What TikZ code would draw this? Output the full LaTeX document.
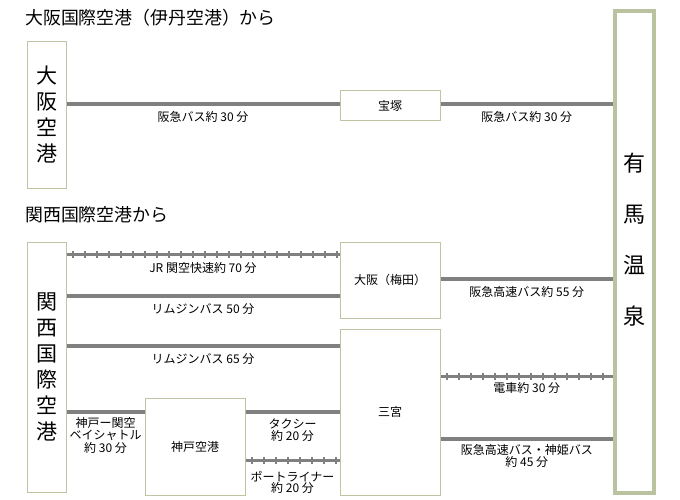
\documentclass[tikz,border=0pt]{standalone}
\usepackage{fontspec}
\setmainfont{Noto Sans CJK JP}
\usepackage{xcolor}
\usetikzlibrary{decorations.markings}

\definecolor{linegray}{RGB}{128,128,128}
\definecolor{boxline}{RGB}{192,196,162}
\definecolor{onsenline}{RGB}{185,195,160}
\newcommand\titlesize{\fontsize{17.9}{20}\selectfont}
\newcommand\labelsize{\fontsize{12}{12.5}\selectfont}
\newcommand\tightsize{\fontsize{12}{11}\selectfont}
\newcommand\bigsize{\fontsize{21}{26}\selectfont}
\newcommand\onsensize{\fontsize{22}{51}\selectfont}

\tikzset{
  box/.style={draw=boxline, line width=1pt, inner sep=0pt, font=\labelsize, align=center},
  bus/.style={linegray, line width=3.5pt},
  rail/.style={linegray, line width=3pt,
    postaction={decorate, decoration={markings,
      mark=between positions 6pt and 1 step 12pt with {\fill[linegray] (-1pt,-3.5pt) rectangle (1pt,3.5pt);}}}},
  lbl/.style={font=\labelsize, align=center, inner sep=0pt, text=black},
}

\begin{document}
\begin{tikzpicture}[x=1pt, y=-1pt]
            \useasboundingbox (0,0) rectangle (680,500);

            % from Itami
            \node[anchor=west, inner sep=0pt, font=\titlesize] (title1) at (25,18) {大阪国際空港（伊丹空港）から};
            \node[box, minimum width=39pt, minimum height=146pt, font=\bigsize] (itm) at (46.5,115) {大\\阪\\空\\港};
            \node[box, minimum width=100pt, minimum height=30pt] (tkz) at (390,106) {宝塚};
            \node[draw=onsenline, line width=4pt, minimum width=39pt, minimum height=482pt,
                  label={[font=\onsensize, align=center, yshift=12pt]center:有\\馬\\温\\泉}] (arima) at (634.5,252) {};

            \draw[bus] (itm.east |- 0,104) -- node[lbl, yshift=-13pt] (l-itm) {阪急バス約 30 分} (tkz.west |- 0,104); % itami-takarazuka
            \draw[bus] (tkz.east |- 0,104) -- node[lbl, yshift=-13pt] (l-tkz) {阪急バス約 30 分} (arima.west |- 0,104); % takarazuka-arima

            % from Kansai
            \node[anchor=west, inner sep=0pt, font=\titlesize] (title2) at (25,215) {関西国際空港から};
            \node[box, minimum width=39pt, minimum height=250pt, font=\bigsize] (kix) at (46.5,367) {関\\西\\国\\際\\空\\港};
            \node[box, minimum width=100pt, minimum height=76pt] (umeda) at (390,280) {大阪（梅田）};
            \node[box, minimum width=100pt, minimum height=166pt] (snm) at (390,412) {三宮};
            \node[box, minimum width=100pt, minimum height=97pt] (kobe) at (195,446.5) {神戸空港};

            \draw[rail] (kix.east |- 0,254) -- node[lbl, yshift=-14pt] (l-jr) {JR 関空快速約 70 分} (umeda.west |- 0,254); % kix-umeda
            \draw[bus] (kix.east |- 0,296) -- node[lbl, yshift=-13pt] (l-lim50) {リムジンバス 50 分} (umeda.west |- 0,296); % kix-umeda
            \draw[bus] (kix.east |- 0,346) -- node[lbl, yshift=-13pt] (l-lim65) {リムジンバス 65 分} (snm.west |- 0,346); % kix-sannomiya
            \draw[bus] (kix.east |- 0,412) -- node[lbl, yshift=-23pt] (l-bay) {神戸ー関空\\ベイシャトル\\約 30 分} (kobe.west |- 0,412); % kix-kobe
            \draw[bus] (kobe.east |- 0,412) -- node[lbl, yshift=-18pt] (l-taxi) {タクシー\\約 20 分} (snm.west |- 0,412); % kobe-sannomiya
            \draw[rail] (kobe.east |- 0,460) -- node[lbl, font=\tightsize, yshift=-22pt] (l-port) {ポートライナー\\約 20 分} (snm.west |- 0,460); % kobe-sannomiya

            \draw[bus] (umeda.east |- 0,279) -- node[lbl, yshift=-13pt] (l-umeda) {阪急高速バス約 55 分} (arima.west |- 0,279); % umeda-arima
            \draw[rail] (snm.east |- 0,376) -- node[lbl, yshift=-12pt] (l-train) {電車約 30 分} (arima.west |- 0,376); % sannomiya-arima
            \draw[bus] (snm.east |- 0,439) -- node[lbl, yshift=-17pt] (l-bus45) {阪急高速バス・神姫バス\\約 45 分} (arima.west |- 0,439); % sannomiya-arima
        \end{tikzpicture}
\end{document}
